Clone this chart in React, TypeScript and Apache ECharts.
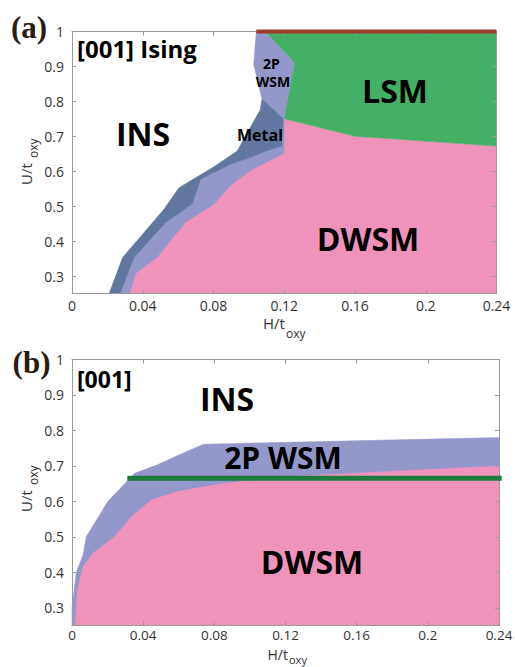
import React, { useEffect, useRef } from "react";
import * as echarts from "echarts";

// ---- Data (H/t_oxy, U/t_oxy) ----
const X_MIN = 0;
const X_MAX = 0.24;
const X_STEP = 0.04;
const Y_MIN = 0.25;
const Y_MAX = 1;
const Y_TICKS = [0.3, 0.4, 0.5, 0.6, 0.7, 0.8, 0.9, 1];

// Panel (a): [001] Ising
const A_LAVENDER = [
  [0.1042, 1.0], [0.1093, 1.0], [0.126, 0.91], [0.1206, 0.75], [0.1206, 0.25],
  [0.0272, 0.25], [0.0351, 0.353], [0.053, 0.453], [0.068, 0.506], [0.0727, 0.577],
  [0.0896, 0.62], [0.1008, 0.639], [0.11, 0.658], [0.1187, 0.672], [0.1195, 0.75],
  [0.1074, 0.807], [0.1027, 0.906],
];
const A_METAL = [
  [0.021, 0.25], [0.0286, 0.353], [0.052, 0.491], [0.0605, 0.553], [0.0793, 0.61],
  [0.0934, 0.658], [0.1065, 0.777], [0.1074, 0.807], [0.1195, 0.75], [0.1187, 0.69],
  [0.1187, 0.672], [0.11, 0.658], [0.1008, 0.639], [0.0896, 0.62], [0.0727, 0.577],
  [0.068, 0.506], [0.053, 0.453], [0.0351, 0.353], [0.0272, 0.25],
];
const A_DWSM = [
  [0.0329, 0.25], [0.036, 0.306], [0.0483, 0.353], [0.0642, 0.453], [0.08, 0.503],
  [0.0896, 0.558], [0.1008, 0.601], [0.1177, 0.644], [0.1202, 0.653], [0.1202, 0.75],
  [0.16, 0.7], [0.24, 0.672], [0.24, 0.25],
];
const A_LSM = [
  [0.1093, 1.0], [0.24, 1.0], [0.24, 0.672], [0.16, 0.7], [0.1202, 0.75], [0.126, 0.91],
];
const A_RED_LINE = [[0.1042, 1.0], [0.24, 1.0]];

// Panel (b): [001]
const B_WSM = [
  [0, 0.25], [0, 0.3], [0.0024, 0.4], [0.0062, 0.449], [0.008, 0.5], [0.0202, 0.6],
  [0.0352, 0.679], [0.048, 0.703], [0.061, 0.733], [0.0738, 0.761], [0.24, 0.78], [0.24, 0.25],
];
const B_DWSM = [
  [0.0019, 0.25], [0.003, 0.35], [0.0062, 0.416], [0.0118, 0.454], [0.024, 0.5],
  [0.0334, 0.557], [0.0446, 0.604], [0.0588, 0.627], [0.0794, 0.646], [0.1017, 0.66],
  [0.115, 0.668], [0.24, 0.7], [0.24, 0.25],
];
const B_GREEN_LINE = [[0.0311, 0.665], [0.2415, 0.665]];

const PINK = "#f093bb";
const GREEN = "#44b065";
const LAVENDER = "#9397ca";
const SLATE = "#61779f";
const AXIS_GRAY = "#9a9a9a";
const LABEL_FONT = '"Open Sans", "Noto Sans", sans-serif';

function polySeries(points: number[][], color: string, axisIdx: number) {
  return {
    type: "custom",
    coordinateSystem: "cartesian2d",
    xAxisIndex: axisIdx,
    yAxisIndex: axisIdx,
    silent: true,
    data: points,
    renderItem: (params: any, api: any) => {
      if (params.dataIndex !== 0) return null;
      const pts = points.map((p) => api.coord(p));
      return {
        type: "polygon",
        shape: { points: pts },
        style: { fill: color, stroke: color, lineWidth: 0.5 },
      };
    },
  };
}

function xAxes(gridIndex: number, labelMargin: number, fontSize: number) {
  const base = {
    type: "value",
    gridIndex,
    min: X_MIN,
    max: X_MAX,
    interval: X_STEP,
    z: 10,
    splitLine: { show: false },
    axisLine: { show: true, onZero: false, lineStyle: { color: AXIS_GRAY, width: 1 } },
    axisTick: { show: true, inside: true, length: 4, lineStyle: { color: AXIS_GRAY } },
  };
  return [
    {
      ...base,
      position: "bottom",
      axisLabel: {
        show: true,
        margin: labelMargin,
        color: "#333",
        fontSize,
        lineHeight: fontSize,
        fontFamily: LABEL_FONT,
        formatter: (v: number) => String(Math.round(v * 100) / 100),
      },
    },
    { ...base, position: "top", axisLabel: { show: false } },
  ];
}

function yAxes(gridIndex: number) {
  const base = {
    type: "value",
    gridIndex,
    min: Y_MIN,
    max: Y_MAX,
    z: 10,
    splitLine: { show: false },
    axisLine: { show: true, onZero: false, lineStyle: { color: AXIS_GRAY, width: 1 } },
    axisTick: {
      show: true,
      inside: true,
      length: 4,
      customValues: Y_TICKS,
      lineStyle: { color: AXIS_GRAY },
    },
  };
  return [
    {
      ...base,
      position: "left",
      axisLabel: {
        show: true,
        margin: 8,
        color: "#333",
        fontSize: 14,
        fontFamily: LABEL_FONT,
        customValues: Y_TICKS,
        formatter: (v: number) => String(Math.round(v * 10) / 10),
      },
    },
    { ...base, position: "right", axisLabel: { show: false } },
  ];
}

function txt(text: string, x: number, y: number, size: number, extra: any = {}) {
  return {
    type: "text",
    x,
    y,
    z: 50,
    silent: true,
    ...extra.el,
    style: {
      text,
      fill: extra.fill || "#000",
      fontSize: size,
      fontWeight: extra.weight || "bold",
      fontFamily: extra.family || LABEL_FONT,
      align: extra.align || "center",
      verticalAlign: "middle",
    },
  };
}

export default function App() {
  const ref = useRef<HTMLDivElement>(null);

  useEffect(() => {
    if (!ref.current) return;
    const chart = echarts.init(ref.current, undefined, { renderer: "svg" });
    const rot = { el: { rotation: Math.PI / 2 } };
    const axName = { align: "left", weight: "normal", fill: "#333" };
    const option: any = {
      animation: false,
      grid: [
        { left: 72, top: 31.5, width: 424.5, height: 262, outerBoundsMode: "none" },
        { left: 72, top: 359.5, width: 427, height: 266, outerBoundsMode: "none" },
      ],
      xAxis: [...xAxes(0, 5, 14), ...xAxes(1, 3, 13.5)],
      yAxis: [...yAxes(0), ...yAxes(1)],
      series: [
        polySeries(A_LAVENDER, LAVENDER, 0),
        polySeries(A_METAL, SLATE, 0),
        polySeries(A_DWSM, PINK, 0),
        polySeries(A_LSM, GREEN, 0),
        {
          type: "line",
          xAxisIndex: 0,
          yAxisIndex: 0,
          data: A_RED_LINE,
          symbol: "none",
          clip: false,
          silent: true,
          z: 20,
          lineStyle: { color: "#a13a2d", width: 4 },
        },
        polySeries(B_WSM, LAVENDER, 2),
        polySeries(B_DWSM, PINK, 2),
        {
          type: "line",
          xAxisIndex: 2,
          yAxisIndex: 2,
          data: B_GREEN_LINE,
          symbol: "none",
          clip: false,
          silent: true,
          z: 20,
          lineStyle: { color: "#1c7a3c", width: 5 },
        },
      ],
      graphic: [
        // panel labels
        txt("(a)", 29, 27, 31, { family: '"Liberation Serif", "DejaVu Serif", serif', fill: "#2a1a12" }),
        txt("(b)", 31.5, 362, 31, { family: '"Liberation Serif", "DejaVu Serif", serif', fill: "#2a1a12" }),
        // panel (a) annotations
        txt("[001] Ising", 77, 48, 24, { align: "left" }),
        txt("INS", 143, 133, 32),
        txt("2P", 271.5, 63.5, 14),
        txt("WSM", 273, 81, 14),
        txt("Metal", 260, 135, 16),
        txt("LSM", 395, 90, 32),
        txt("DWSM", 368, 238, 32),
        // panel (b) annotations
        txt("[001]", 77, 379, 23, { align: "left" }),
        txt("INS", 227, 398, 32),
        txt("2P WSM", 283, 457, 30),
        txt("DWSM", 312, 561, 32),
        // axis names panel (a)
        txt("H/t", 263, 322.5, 15, axName),
        txt("oxy", 286, 333, 12, axName),
        txt("U/t", 26, 185, 15, { ...axName, ...rot }),
        txt("oxy", 33, 158, 12, { ...axName, ...rot }),
        // axis names panel (b)
        txt("H/t", 267.5, 654.5, 14, axName),
        txt("oxy", 289, 659.5, 11, axName),
        txt("U/t", 26, 512, 15, { ...axName, ...rot }),
        txt("oxy", 33, 485, 12, { ...axName, ...rot }),
      ],
    };
    chart.setOption(option);
    return () => chart.dispose();
  }, []);

  return (
    <div
      ref={ref}
      style={{ position: "fixed", left: 0, top: 0, width: 515, height: 667, background: "#fff" }}
    />
  );
}
